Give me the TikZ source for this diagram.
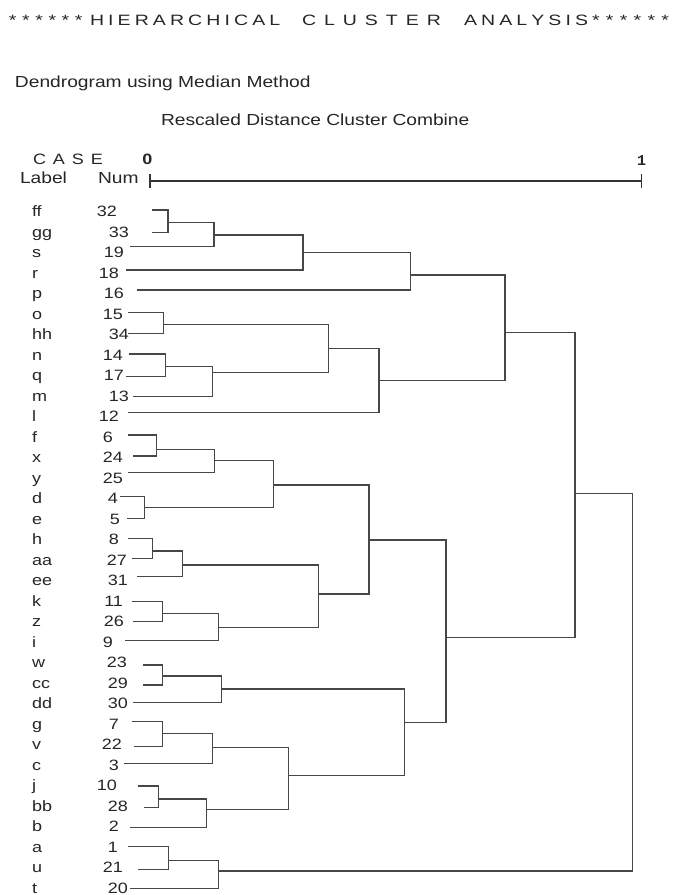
\documentclass[tikz,border=0pt]{standalone}
\usepackage{fontspec}
\usepackage{graphicx}
\setmainfont{Liberation Sans}
\newfontfamily\monofnt{Liberation Mono}
\newdimen\lsk
\def\ls#1#2{\lsk=#1\relax\lsA#2\relax}
\def\lsA#1{\ifx#1\relax\else#1\kern\lsk\expandafter\lsA\fi}
\newcommand\sx[1]{\scalebox{1.2}[1]{#1}}
\newcommand\sxt[1]{\scalebox{1.3}[1]{#1}}
\begin{document}
\begin{tikzpicture}[x=1pt,y=-1pt,
  txt/.style={inner sep=0pt, outer sep=0pt, text=black!85},
  ttl/.style={txt, anchor=base west, font=\fontsize{15}{17}\selectfont},
  rowtxt/.style={txt, font=\fontsize{15}{18}\selectfont},
  dline/.style={draw=black!72, line width=1.3pt},
  axline/.style={draw=black!80, line width=1.2pt}]
\useasboundingbox[fill=white] (0,0) rectangle (673,895);

% title
\node[ttl] (ast1) at (9,25) {\sxt{\ls{4.3pt}{******}}};
\node[ttl] (w1) at (90,25.5) {\sxt{\ls{3.15pt}{HIERARCHICAL}}};
\node[ttl] (w2) at (302,25.5) {\sxt{\ls{6.15pt}{CLUSTER}}};
\node[ttl] (w3) at (464,25.5) {\sxt{\ls{3.15pt}{ANALYSIS}}};
\node[ttl] (ast2) at (592,25) {\sxt{\ls{4.85pt}{******}}};

\node[txt, anchor=base west, font=\fontsize{16}{19}\selectfont] (dend) at (15,87.5) {\sx{Dendrogram using Median Method}};
\node[txt, anchor=base west, font=\fontsize{16}{19}\selectfont] (resc) at (161,125) {\sx{Rescaled Distance Cluster Combine}};

\node[txt, anchor=base west, font=\fontsize{15}{18}\selectfont] (case) at (33,164) {\sx{\ls{5.8pt}{CASE}}};
\node[txt, anchor=base, font=\fontsize{15}{18}\selectfont\bfseries] (zero) at (147.5,164) {\sx{0}};
\node[txt, anchor=base, font=\fontsize{15}{18}\selectfont\monofnt\bfseries] (one) at (641.5,165) {1};
\node[txt, anchor=base west, font=\fontsize{16}{19}\selectfont] (lbl) at (20,183.3) {\sx{Label}};
\node[txt, anchor=base west, font=\fontsize{16}{19}\selectfont] (numh) at (98,183.3) {\sx{Num}};

% axis
\coordinate (ax0) at (150,181);
\coordinate (ax1) at (641.7,181);
\draw[axline] (ax0) -- (ax1);
\draw[axline] (ax0) ++(0,-7) -- ++(0,14);
\draw[axline] (ax1) ++(0,-7) -- ++(0,14);

% leaves
\foreach \i/\lab/\num/\nx/\lx/\ly in {
 0/ff/32/117/152/210, 1/gg/33/129/152/232.7, 2/s/19/124/130/246.7,
 3/r/18/119/126/270, 4/p/16/124/137/290, 5/o/15/123/128/312.3,
 6/hh/34/129/128/333.3, 7/n/14/123/129/354, 8/q/17/124/126/376.7,
 9/m/13/129/133/396.7, 10/l/12/119/128.3/412.3, 11/f/6/113/128.3/435,
 12/x/24/123/132.7/456, 13/y/25/123/127.7/472.7, 14/d/4/118/120/496.7,
 15/e/5/120/126.7/518.7, 16/h/8/119/127.7/538.3, 17/aa/27/127/131.7/558.3,
 18/ee/31/128/136.7/576.7, 19/k/11/123/131.7/601.7, 20/z/26/124/133.3/621.7,
 21/i/9/113/125/640.7, 22/w/23/127/143.3/665, 23/cc/29/128/143.3/685,
 24/dd/30/128/133.3/702.7, 25/g/7/119/131.7/721.7, 26/v/22/122/134.3/746.7,
 27/c/3/119/124/763.3, 28/j/10/117/137.7/786, 29/bb/28/128/144/807.3,
 30/b/2/119/130/827.3, 31/a/1/118/128.3/846.7, 32/u/21/123/137.7/869.3,
 33/t/20/128/130/888.7}{
  \node[rowtxt, anchor=base west] (lab-\lab) at (32,{216.7+20.5*\i}) {\sx{\lab}};
  \node[rowtxt, anchor=base east] (num-\lab) at (\nx,{216.7+20.5*\i}) {\sx{\num}};
  \coordinate (lf-\lab) at (\lx,\ly);
}

% merges
\foreach \m/\mx/\my/\ca/\cb in {
 mA/168/222.3/lf-ff/lf-gg, mB/214/235/mA/lf-s, mC/303/252.3/mB/lf-r,
 mD/410.7/275/mC/lf-p, mE/163.3/324.3/lf-o/lf-hh, mF/165.7/366.7/lf-n/lf-q,
 mG/212.3/372.7/mF/lf-m, mH/328.3/348.3/mE/mG, mI/379/380.7/mH/lf-l,
 mJ/505/332.7/mD/mI, mL/156.7/449.3/lf-f/lf-x, mM/214.3/460.7/mL/lf-y,
 mN/144.3/507.7/lf-d/lf-e, mO/273.3/485/mM/mN, mP/152.3/551/lf-h/lf-aa,
 mQ/182.3/565/mP/lf-ee, mR/162.3/613.3/lf-k/lf-z, mS/218.3/627.3/mR/lf-i,
 mT/318.3/594/mQ/mS, mU/369/540/mO/mT, mW/162.7/676/lf-w/lf-cc,
 mX/221.7/689/mW/lf-dd, mY/162.3/733.3/lf-g/lf-v, mZ/212.3/747.3/mY/lf-c,
 mAA/158.3/799/lf-j/lf-bb, mAB/206.7/809.3/mAA/lf-b, mAC/288.3/775.7/mZ/mAB,
 mAD/404.3/722.7/mX/mAC, mV/446/637.3/mU/mAD, mK/575/493.3/mJ/mV,
 mAE/168.3/860.7/lf-a/lf-u, mAF/218.3/871/mAE/lf-t, mAG/632.7/680/mK/mAF}{
  \coordinate (\m) at (\mx,\my);
  \draw[dline] (\ca) -- (\ca -| \m) -- (\cb -| \m) -- (\cb);
}
\end{tikzpicture}
\end{document}
